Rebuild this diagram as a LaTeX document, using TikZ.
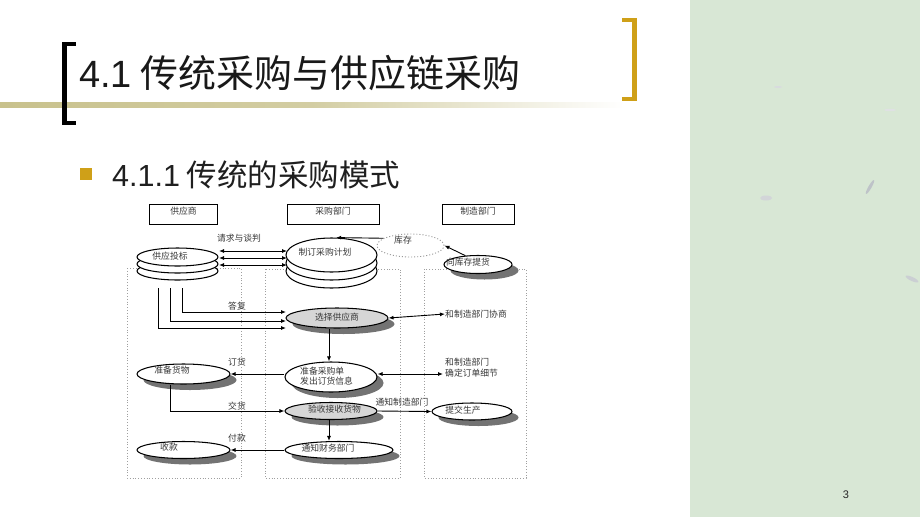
\documentclass[tikz,border=0pt]{standalone}
\usepackage{fontspec}
\setmainfont{Noto Sans CJK SC}
\newfontfamily\lat{Liberation Sans}
\usetikzlibrary{arrows.meta,shapes.geometric,shadows}
\definecolor{panel}{RGB}{216,231,213}
\definecolor{gold}{RGB}{207,160,24}
\definecolor{olivebar}{RGB}{200,193,140}
\definecolor{dtext}{RGB}{55,55,55}
\definecolor{selfill}{RGB}{214,214,214}
\definecolor{shad}{RGB}{115,115,115}
\definecolor{speck}{RGB}{190,195,200}
\newcommand\diafont{\fontsize{8.8}{10.5}\selectfont}
\begin{document}
\begin{tikzpicture}[x=1pt,y=-1pt,
  el/.style={ellipse,draw=black,line width=1.05pt,fill=white,inner sep=0pt},
  shd/.style={drop shadow={shadow xshift=6.5pt,shadow yshift=-6pt,fill=shad,opacity=1}},
  lbl/.style={font=\diafont,text=dtext,inner sep=0pt},
  arr/.style={-{Latex[length=5pt,width=4pt]},line width=0.9pt},
  darr/.style={{Latex[length=5pt,width=4pt]}-{Latex[length=5pt,width=4pt]},line width=0.9pt},
  col/.style={draw=gray!75,dotted,line width=0.8pt},
  hdr/.style={draw=black,line width=0.8pt,inner sep=0pt}
]
\useasboundingbox (0,0) rectangle (920,517);
\fill[white] (0,0) rectangle (920,517);
\fill[panel] (690,0) rectangle (920,517);
% specks on the panel
\fill[speck,rotate around={60:(870,187)}] (870,187) ellipse (8 and 1.6);
\fill[speck!80,rotate around={-25:(912,279)}] (912,279) ellipse (7 and 2);
\fill[speck!70] (766,198) ellipse (6 and 2.5);
\fill[speck!60] (778,87) ellipse (4 and 1);
\fill[speck!50] (890,110) ellipse (6 and 1.2);

% title bar
\shade[left color=olivebar,right color=white,middle color=olivebar!80] (0,102) rectangle (625,107);
\fill[black] (62,42) rectangle (67,125);
\fill[black] (62,42) rectangle (76,46);
\fill[black] (62,121) rectangle (76,125);
\fill[gold] (632,18) rectangle (637,101);
\fill[gold] (622,18) rectangle (637,22);
\fill[gold] (622,97) rectangle (637,101);
\node[anchor=west,inner sep=0pt,text=black!90,font=\fontsize{38}{40}\selectfont] (title) at (79,73) {{\lat 4.1} 传统采购与供应链采购};

% subtitle
\fill[gold] (80,168) rectangle (92,180);
\node[anchor=west,inner sep=0pt,text=black!88,font=\fontsize{30.5}{32}\selectfont] (sub) at (112,175) {{\lat 4.1.1} 传统的采购模式};

% column boxes
\draw[col] (127,268) rectangle (241,478);
\draw[col] (265,269) rectangle (400,478);
\draw[col] (424,269) rectangle (526,478);

% headers
\node[hdr,minimum width=68pt,minimum height=20pt] (h1) at (183.5,214) {};
\node[lbl] (h1t) at (183.5,211) {供应商};
\node[hdr,minimum width=92pt,minimum height=20pt] (h2) at (333,214) {};
\node[lbl] (h2t) at (333,211) {采购部门};
\node[hdr,minimum width=72pt,minimum height=20pt] (h3) at (478,214) {};
\node[lbl] (h3t) at (478,211) {制造部门};

% supplier bid stack
\node[el,minimum width=81pt,minimum height=18pt] (bid3) at (177.5,271) {};
\node[el,minimum width=81pt,minimum height=18pt] (bid2) at (177.5,264) {};
\node[el,minimum width=81pt,minimum height=18pt] (bid1) at (177.5,257) {};
\node[lbl] (bidt) at (170,256) {供应投标};

% plan stack
\node[el,minimum width=91pt,minimum height=34pt] (plan3) at (331.5,271) {};
\node[el,minimum width=91pt,minimum height=34pt] (plan2) at (331.5,263) {};
\node[el,minimum width=91pt,minimum height=34pt] (plan1) at (331.5,255) {};
\node[lbl] (plant) at (325,252) {制订采购计划};

% stock
\node[el,draw=gray!80,dotted,line width=0.9pt,minimum width=67pt,minimum height=23pt] (kc) at (410.5,245.5) {};
\node[lbl] (kct) at (403,240) {库存};
\node[el,shd,minimum width=68pt,minimum height=18pt] (ti) at (478,264.5) {};
\node[lbl] (tit) at (468,262) {向库存提货};

% select supplier
\node[el,shd,fill=selfill,minimum width=102pt,minimum height=20pt] (sel) at (337,318) {};
\node[lbl] (selt) at (337,317) {选择供应商};
\node[lbl,anchor=west] (xs) at (445,314) {和制造部门协商};

% order
\node[el,shd,minimum width=92pt,minimum height=30pt] (prep) at (331,377) {};
\node[lbl,anchor=west,align=left] (prept) at (300,376) {准备采购单\\发出订货信息};
\node[lbl,anchor=west,align=left] (qd) at (445,367.5) {和制造部门\\确定订单细节};
\coordinate (qdc) at (443,374);

\node[el,shd,minimum width=93pt,minimum height=20pt] (goods) at (183.5,374) {};
\node[lbl] (goodst) at (172,370) {准备货物};

\node[el,shd,fill=selfill,minimum width=92pt,minimum height=17pt] (ys) at (331,411) {};
\node[lbl] (yst) at (334.5,409) {验收接收货物};

\node[el,shd,minimum width=80pt,minimum height=17pt] (prod) at (472,411.5) {};
\node[lbl] (prodt) at (463,410) {提交生产};

\node[el,shd,minimum width=108pt,minimum height=17pt] (nf) at (339,450) {};
\node[lbl] (nft) at (328,448) {通知财务部门};

\node[el,shd,minimum width=93pt,minimum height=17pt] (sk) at (183.5,450) {};
\node[lbl] (skt) at (169,447) {收款};

% connector labels
\node[lbl] (l1) at (239,238) {请求与谈判};
\node[lbl] (l2) at (237,306) {答复};
\node[lbl] (l3) at (237,362) {订货};
\node[lbl] (l4) at (237,406) {交货};
\node[lbl] (l5) at (402,402) {通知制造部门};
\node[lbl] (l6) at (237,438) {付款};

% connectors
\draw[arr] (kc.165) -- (plan1.75);
\draw[arr] (ti.145) -- (kc.east);

\coordinate (r1l) at (219,251); \coordinate (r1r) at (287,251);
\coordinate (r2l) at (219,258); \coordinate (r2r) at (287,258);
\coordinate (r3l) at (219,265); \coordinate (r3r) at (287,265);
\draw[darr] (r1l) -- (r1r);
\draw[darr] (r2l) -- (r2r);
\draw[darr] (r3l) -- (r3r);

\coordinate (v1) at (158,288); \coordinate (v2) at (170,288); \coordinate (v3) at (182,288);
\coordinate (e1) at (286,328); \coordinate (e2) at (286,321); \coordinate (e3) at (286,312);
\draw[arr] (v1) |- (e1);
\draw[arr] (v2) |- (e2);
\draw[arr] (v3) |- (e3);

\draw[darr] (sel.east) -- (xs.west);
\draw[arr] ([xshift=-8pt]sel.south) -- ([xshift=-2pt]prep.north);
\draw[arr] (prep.west |- goods.east) -- (goods.east);
\draw[darr] (prep.east |- qdc) -- (qdc);
\draw[arr] ([xshift=-13.5pt]goods.south) |- (ys.west);
\draw[arr] (ys.east) -- (prod.west);
\draw[arr] ([xshift=-2pt]ys.south) -- ([xshift=-10pt]nf.north);
\draw[arr] (nf.west) -- (sk.east);

% page number
\node[inner sep=0pt,text=black!85,font=\lat\fontsize{11}{12}\selectfont] (pg) at (846,495) {3};
\end{tikzpicture}
\end{document}
